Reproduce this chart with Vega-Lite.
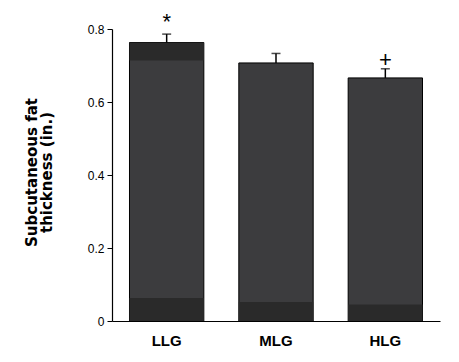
{
  "$schema": "https://vega.github.io/schema/vega-lite/v6.json",
  "width": 328,
  "height": 292,
  "autosize": "none",
  "padding": {"left": 112, "top": 29, "right": 19, "bottom": 41},
  "background": "white",
  "config": {"view": {"stroke": null}, "font": "Liberation Sans"},
  "datasets": {
    "bars": [
      {"group": "LLG", "mean": 0.763, "upper": 0.786},
      {"group": "MLG", "mean": 0.707, "upper": 0.733},
      {"group": "HLG", "mean": 0.666, "upper": 0.691}
    ],
    "bands": [
      {"group": "LLG", "lo": 0, "hi": 0.063},
      {"group": "LLG", "lo": 0.714, "hi": 0.763},
      {"group": "MLG", "lo": 0, "hi": 0.052},
      {"group": "HLG", "lo": 0, "hi": 0.045}
    ],
    "sig": [
      {"group": "LLG", "pos": 0.818, "sym": "*"},
      {"group": "HLG", "pos": 0.714, "sym": "+"}
    ]
  },
  "encoding": {
    "x": {
      "field": "group", "type": "nominal", "sort": ["LLG", "MLG", "HLG"],
      "scale": {"paddingInner": 0.32, "paddingOuter": 0.16},
      "axis": {"title": null, "ticks": false, "labelAngle": 0, "labelFontSize": 15, "labelFontWeight": "bold", "labelColor": "black", "labelPadding": 12, "domainColor": "black", "domainWidth": 1.2}
    }
  },
  "layer": [
    {
      "data": {"name": "bars"},
      "mark": {"type": "bar", "color": "#3c3c3e", "stroke": "black", "strokeWidth": 1},
      "encoding": {
        "y": {
          "field": "mean", "type": "quantitative",
          "scale": {"domain": [0, 0.8], "nice": false},
          "axis": {
            "values": [0, 0.2, 0.4, 0.6, 0.8],
            "labelExpr": "datum.value == 0 ? '0' : format(datum.value, '.1f')",
            "grid": false, "tickSize": 5, "tickColor": "black", "domainColor": "black", "domainWidth": 1.2,
            "labelFontSize": 12, "labelColor": "black", "labelPadding": 3,
            "title": ["Subcutaneous fat", "thickness (in.)"],
            "titleFont": "DejaVu Sans", "titleFontSize": 15, "titleFontWeight": "bold", "titleColor": "black", "titlePadding": 33, "titleLineHeight": 15, "titleY": 143
          }
        }
      }
    },
    {
      "data": {"name": "bands"},
      "mark": {"type": "bar", "color": "#2a2a2a"},
      "encoding": {
        "y": {"field": "lo", "type": "quantitative"},
        "y2": {"field": "hi"}
      }
    },
    {
      "data": {"name": "bars"},
      "mark": {"type": "rule", "color": "black", "strokeWidth": 1.5},
      "encoding": {
        "y": {"field": "mean", "type": "quantitative"},
        "y2": {"field": "upper"}
      }
    },
    {
      "data": {"name": "bars"},
      "mark": {"type": "tick", "color": "black", "size": 9, "thickness": 1.5},
      "encoding": {
        "y": {"field": "upper", "type": "quantitative"}
      }
    },
    {
      "data": {"name": "sig"},
      "mark": {"type": "text", "fontSize": 22, "color": "black", "baseline": "middle", "font": "Liberation Sans"},
      "encoding": {
        "y": {"field": "pos", "type": "quantitative"},
        "text": {"field": "sym"}
      }
    }
  ]
}
